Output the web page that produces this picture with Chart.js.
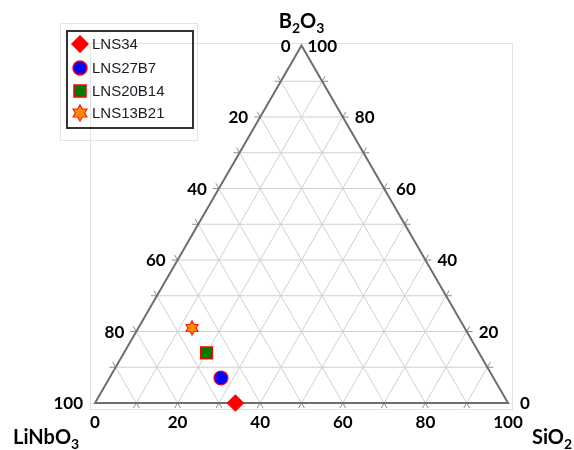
<!DOCTYPE html>
<html>
<head>
<meta charset="utf-8">
<script src="https://cdn.jsdelivr.net/npm/chart.js@4"></script>
<style>
html, body { margin: 0; padding: 0; background: #fff; }
#wrap { width: 574px; height: 450px; }
</style>
</head>
<body>
<div id="wrap"><canvas id="ternary" width="574" height="450"></canvas></div>
<script>
// Sample compositions (mol %)
const sampleNames = ['LNS34', 'LNS27B7', 'LNS20B14', 'LNS13B21'];
const linbo3 = [66, 66, 66, 66];
const sio2 = [34, 27, 20, 13];
const b2o3 = [0, 7, 14, 21];

// Axis tick labels and grid steps
const tickValues = [0, 20, 40, 60, 80, 100];
const gridSteps = [10, 20, 30, 40, 50, 60, 70, 80, 90];

const H = Math.sqrt(3) / 2;
const labelFont = "bold 17px Lato, 'Open Sans', sans-serif";

// ternary -> cartesian (SiO2 right, B2O3 up, LiNbO3 bottom-left)
function toXY(si, b) {
    return { x: si + b / 2, y: b * H };
}

function px(chart, si, b) {
    const p = toXY(si, b);
    return { x: chart.scales.x.getPixelForValue(p.x), y: chart.scales.y.getPixelForValue(p.y) };
}

// Six-pointed star marker
function makeStar(R) {
    const size = Math.ceil(R * 2 + 4);
    const c = document.createElement('canvas');
    c.width = size; c.height = size;
    const g = c.getContext('2d');
    const cx = size / 2, cy = size / 2, r = R / Math.sqrt(3);
    g.beginPath();
    for (let k = 0; k < 12; k++) {
        const ang = (-90 + k * 30) * Math.PI / 180;
        const rr = k % 2 === 0 ? R : r;
        const x = cx + rr * Math.cos(ang), y = cy + rr * Math.sin(ang);
        if (k === 0) g.moveTo(x, y); else g.lineTo(x, y);
    }
    g.closePath();
    g.fillStyle = '#ff8c00';
    g.fill();
    g.strokeStyle = '#ff1a00';
    g.lineWidth = 1.2;
    g.stroke();
    return c;
}

const markerStyles = [
    { pointStyle: 'rectRot', radius: 8, fill: '#ff0000', border: '#ff0000' },
    { pointStyle: 'circle', radius: 7, fill: '#0000ff', border: '#ff0000' },
    { pointStyle: 'rect', radius: 8.5, fill: '#007a00', border: '#ff0000' },
    { pointStyle: makeStar(7), radius: 7, fill: '#ff8c00', border: '#ff1a00' }
];
const legendStar = makeStar(8);

// Draw chemical formula with subscripts
function drawFormula(ctx, parts, x, y, align) {
    const big = "bold 20px Lato, 'Open Sans', sans-serif";
    const small = "bold 14px Lato, 'Open Sans', sans-serif";
    let total = 0;
    parts.forEach(p => { ctx.font = p[1] ? small : big; total += ctx.measureText(p[0]).width; });
    let cx = align === 'center' ? x - total / 2 : x;
    ctx.textAlign = 'left';
    ctx.textBaseline = 'alphabetic';
    parts.forEach(p => {
        ctx.font = p[1] ? small : big;
        ctx.fillText(p[0], cx, p[1] ? y + 5 : y);
        cx += ctx.measureText(p[0]).width;
    });
}

function line(ctx, a, b) {
    ctx.beginPath();
    ctx.moveTo(a.x, a.y);
    ctx.lineTo(b.x, b.y);
    ctx.stroke();
}

function gridLine(ctx, a, b) {
    ctx.strokeStyle = '#cfcfcf';
    ctx.lineWidth = 1;
    line(ctx, a, b);
    // tick extensions outside the triangle
    const dx = b.x - a.x, dy = b.y - a.y, len = Math.hypot(dx, dy);
    const ux = dx / len * 6, uy = dy / len * 6;
    ctx.strokeStyle = '#8c8c8c';
    line(ctx, a, { x: a.x - ux, y: a.y - uy });
    line(ctx, b, { x: b.x + ux, y: b.y + uy });
}

const ternaryPlugin = {
    id: 'ternary',
    beforeDatasetsDraw(chart) {
        const ctx = chart.ctx;
        ctx.save();

        // faint plot frame
        ctx.strokeStyle = '#e2e2e2';
        ctx.lineWidth = 1;
        ctx.strokeRect(90.5, 43.5, 422, 366);

        // grid lines
        gridSteps.forEach(k => {
            gridLine(ctx, px(chart, 0, k), px(chart, 100 - k, k));      // B2O3 const
            gridLine(ctx, px(chart, k, 0), px(chart, k, 100 - k));      // SiO2 const
            gridLine(ctx, px(chart, 100 - k, 0), px(chart, 0, 100 - k)); // LiNbO3 const
        });

        // triangle edges
        const L = px(chart, 0, 0), R = px(chart, 100, 0), T = px(chart, 0, 100);
        ctx.strokeStyle = '#6e6e6e';
        ctx.lineWidth = 2;
        ctx.beginPath();
        ctx.moveTo(L.x, L.y); ctx.lineTo(R.x, R.y); ctx.lineTo(T.x, T.y); ctx.closePath();
        ctx.stroke();

        // tick labels
        ctx.fillStyle = '#000';
        ctx.font = labelFont;
        ctx.textBaseline = 'middle';
        tickValues.forEach(v => {
            // bottom: SiO2
            const pb = px(chart, v, 0);
            ctx.textAlign = 'center';
            ctx.fillText(String(v), pb.x, pb.y + 20);
            // left: LiNbO3
            const pl = px(chart, 0, 100 - v);
            ctx.textAlign = 'right';
            ctx.fillText(String(v), pl.x - (v === 0 ? 11 : 12), pl.y + 1);
            // right: B2O3
            const pr = px(chart, 100 - v, v);
            ctx.textAlign = 'left';
            ctx.fillText(String(v), pr.x + (v === 100 ? 6 : 12), pr.y + 1);
        });

        // axis titles
        drawFormula(ctx, [['B', false], ['2', true], ['O', false], ['3', true]], T.x, 28, 'center');
        drawFormula(ctx, [['LiNbO', false], ['3', true]], 13, 444, 'left');
        drawFormula(ctx, [['SiO', false], ['2', true]], 532, 444, 'left');

        ctx.restore();
    },
    afterDraw(chart) {
        const ctx = chart.ctx;
        ctx.save();
        // legend boxes
        ctx.strokeStyle = '#e4e4e4';
        ctx.lineWidth = 1;
        ctx.strokeRect(60.5, 23.5, 137, 117);
        ctx.strokeStyle = '#333';
        ctx.lineWidth = 2;
        ctx.strokeRect(67, 31, 126, 97);

        const rows = [44, 68, 91, 113];
        ctx.font = '15px "Liberation Sans", Arial, sans-serif';
        ctx.textAlign = 'left';
        ctx.textBaseline = 'middle';
        sampleNames.forEach((name, i) => {
            const m = markerStyles[i];
            ctx.fillStyle = m.fill;
            ctx.strokeStyle = m.border;
            ctx.lineWidth = 1.5;
            const style = i === 3 ? legendStar : m.pointStyle;
            Chart.helpers.drawPoint(ctx, { pointStyle: style, radius: m.radius, rotation: 0, borderWidth: 1.5 }, 80, rows[i]);
            ctx.fillStyle = '#1c1c28';
            ctx.fillText(name, 92, rows[i] + 1);
        });
        ctx.restore();
    }
};

const datasets = sampleNames.map((name, i) => ({
    label: name,
    data: [toXY(sio2[i], b2o3[i])],
    pointStyle: markerStyles[i].pointStyle,
    pointRadius: markerStyles[i].radius,
    pointBackgroundColor: markerStyles[i].fill,
    pointBorderColor: markerStyles[i].border,
    pointBorderWidth: 1.2,
    clip: false
}));

new Chart(document.getElementById('ternary').getContext('2d'), {
    type: 'scatter',
    data: { datasets: datasets },
    options: {
        responsive: false,
        animation: false,
        layout: { padding: { left: 95, right: 66, top: 45.5, bottom: 47 } },
        scales: {
            x: { type: 'linear', min: 0, max: 100, display: false },
            y: { type: 'linear', min: 0, max: 100 * H, display: false }
        },
        plugins: {
            legend: { display: false },
            tooltip: { enabled: false }
        }
    },
    plugins: [ternaryPlugin]
});
</script>
</body>
</html>
